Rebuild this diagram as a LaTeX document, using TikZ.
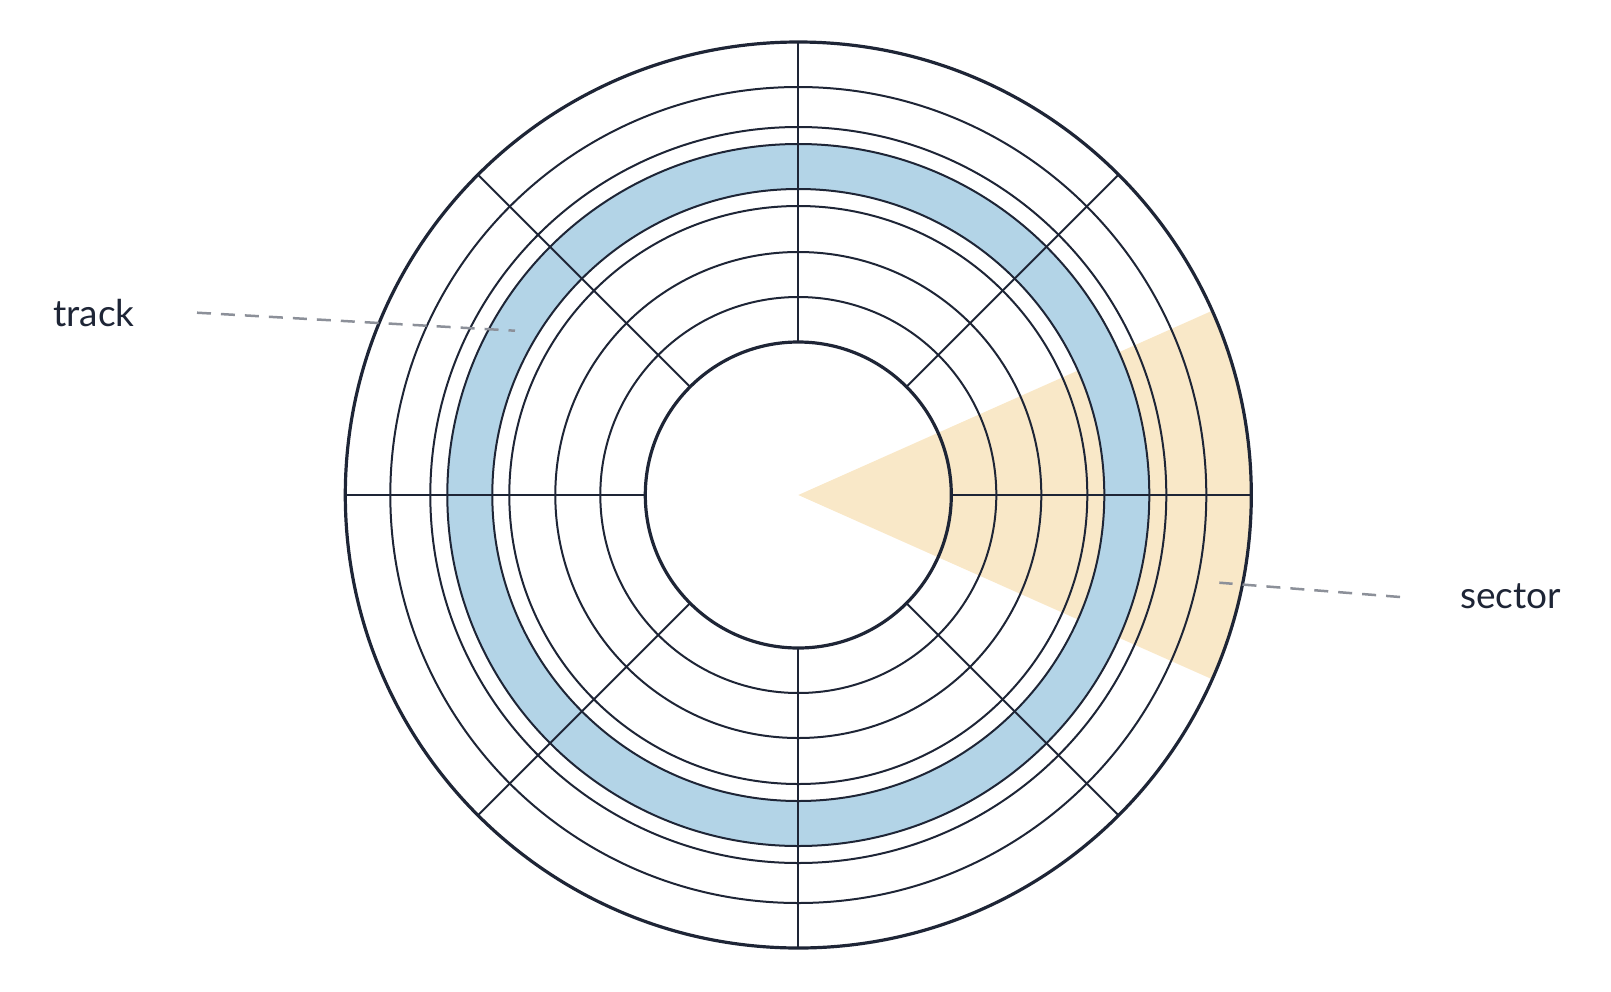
\documentclass[tikz,border=0pt]{standalone}
\usepackage{fontspec}
\setmainfont{Lato}
\definecolor{ink}{HTML}{1E2536}
\definecolor{band}{HTML}{B3D4E7}
\definecolor{wedge}{HTML}{F9E8C8}
\definecolor{leader}{HTML}{8C9099}
\tikzset{
  thinring/.style={draw=ink, line width=2pt},
  thickring/.style={draw=ink, line width=3.2pt},
  spoke/.style={draw=ink, line width=2pt},
  leaderline/.style={draw=leader, line width=2.5pt, dash pattern=on 14pt off 10pt},
  lbl/.style={anchor=base west, inner sep=0pt, text=ink, font=\fontsize{37}{45}\selectfont}
}
\begin{document}
\begin{tikzpicture}[x=1pt,y=-1pt]
\useasboundingbox (0,0) rectangle (1611,991);
\coordinate (c) at (798.3,495);
% sector wedge
\fill[wedge] (c) -- ([shift={(c)}]24:453pt) arc[start angle=24, end angle=-24, radius=453pt] -- cycle;
% track band
\fill[band, even odd rule] (c) circle[radius=351pt] (c) circle[radius=306pt];
% spokes
\foreach \a in {0,45,...,315}
  \draw[spoke] ([shift={(c)}]\a:153pt) -- ([shift={(c)}]\a:453pt);
% rings
\foreach \r in {408,368,351,306,289,243,198}
  \draw[thinring] (c) circle[radius=\r pt];
\draw[thickring] (c) circle[radius=453pt];
\draw[thickring] (c) circle[radius=153pt];
% labels
\node[lbl] (track) at (53,326.7) {track};
\node[lbl] (sector) at (1460,608.3) {sector};
\coordinate (trackA) at (197,312.7);
\coordinate (trackB) at (515,330.7);
\coordinate (sectorA) at (1400,597);
\coordinate (sectorB) at (1219.3,582.7);
\draw[leaderline] (trackA) -- (trackB);
\draw[leaderline] (sectorA) -- (sectorB);
\end{tikzpicture}
\end{document}
